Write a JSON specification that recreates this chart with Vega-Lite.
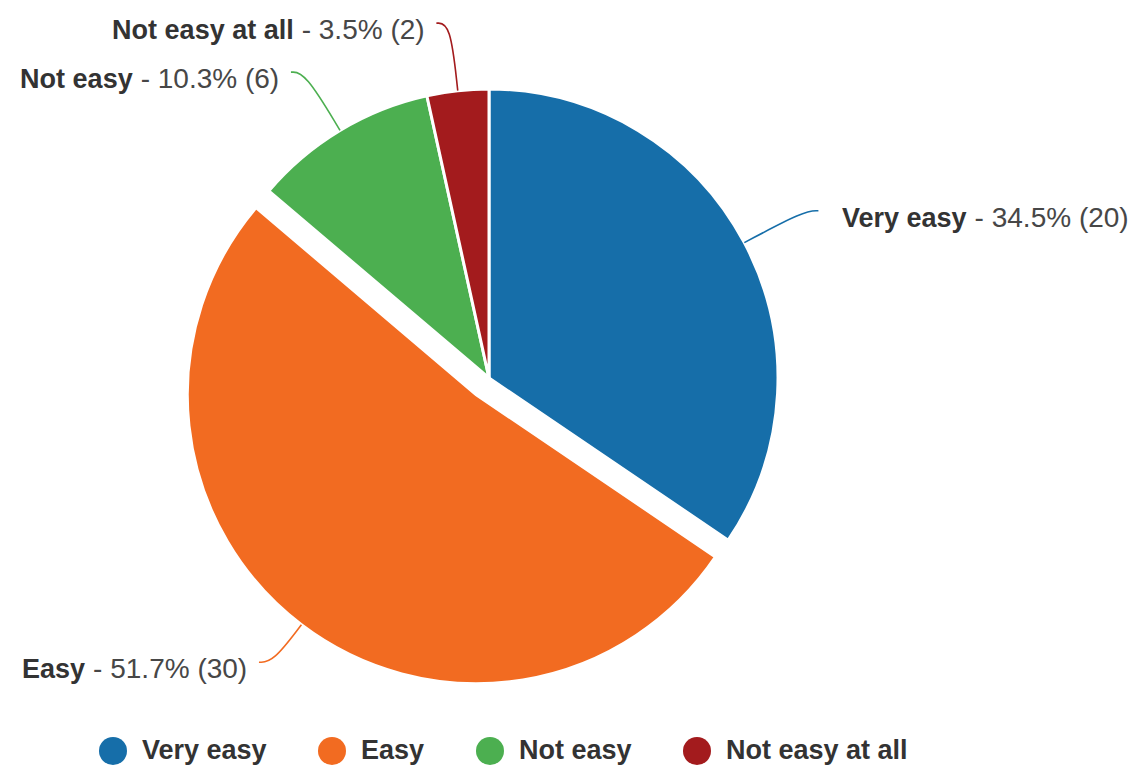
{
  "$schema": "https://vega.github.io/schema/vega-lite/v6.json",
  "width": 1143,
  "height": 769,
  "padding": 0,
  "autosize": "none",
  "background": "white",
  "config": {"view": {"stroke": null}},
  "data": {
    "values": [
      {"answer": "Very easy", "count": 20, "pct": 34.5},
      {"answer": "Easy", "count": 30, "pct": 51.7},
      {"answer": "Not easy", "count": 6, "pct": 10.3},
      {"answer": "Not easy at all", "count": 2, "pct": 3.5}
    ]
  },
  "transform": [
    {"joinaggregate": [{"op": "sum", "field": "count", "as": "total"}]},
    {"window": [{"op": "sum", "field": "count", "as": "t1"}], "frame": [null, 0]},
    {"calculate": "(datum.t1 - datum.count) / datum.total", "as": "f0"},
    {"calculate": "datum.t1 / datum.total", "as": "f1"},
    {"calculate": "PI * (datum.f0 + datum.f1)", "as": "mid"},
    {"calculate": "sin(datum.mid)", "as": "s"},
    {"calculate": "cos(datum.mid)", "as": "c"},
    {"calculate": "datum.s >= 0 ? 1 : -1", "as": "side"},
    {"calculate": "datum.answer === 'Easy' ? 21 : 0", "as": "ex"},
    {"calculate": "datum.ex * datum.s", "as": "cx"},
    {"calculate": "datum.ex * datum.c", "as": "cy"},
    {"calculate": "357 * datum.s + 14 * datum.side", "as": "endX"},
    {"calculate": "357 * datum.c", "as": "endY"},
    {"calculate": "format(datum.pct, '.1f')", "as": "pctS"},
    {"calculate": "'- ' + datum.pctS + '% (' + datum.count + ')'", "as": "rest"},
    {"calculate": "28 * (3.0 + 0.556 * (length(datum.pctS) - 1) + 0.556 * length(toString(datum.count)))", "as": "restW"},
    {"calculate": "13.8 * length(datum.answer)", "as": "nameW"},
    {"calculate": "datum.side > 0 ? datum.endX + 24 + datum.nameW : datum.endX - 12 - datum.restW", "as": "jx"},
    {"calculate": "datum.endY - 8", "as": "ty"}
  ],
  "layer": [
    {
      "mark": {"type": "arc", "outerRadius": 289, "stroke": "white", "strokeWidth": 3},
      "encoding": {
        "theta": {"field": "f0", "type": "quantitative", "scale": {"domain": [0, 1], "range": [0, 6.283185307179586]}},
        "theta2": {"field": "f1"},
        "x": {"field": "cx", "type": "quantitative", "scale": {"domain": [-489, 654], "nice": false, "zero": false}, "axis": null},
        "y": {"field": "cy", "type": "quantitative", "scale": {"domain": [-391, 378], "nice": false, "zero": false}, "axis": null},
        "color": {
          "field": "answer",
          "type": "nominal",
          "scale": {"domain": ["Very easy", "Easy", "Not easy", "Not easy at all"], "range": ["#166ea9", "#f26b21", "#4caf50", "#a31b1d"]},
          "legend": {
            "orient": "none",
            "legendX": 99,
            "legendY": 737,
            "direction": "horizontal",
            "columns": 4,
            "title": null,
            "padding": 0,
            "symbolType": "circle",
            "symbolSize": 784,
            "symbolStrokeWidth": 0,
            "labelFont": "Liberation Sans",
            "labelFontSize": 27,
            "labelFontWeight": "bold",
            "labelColor": "#333333",
            "labelOffset": 15,
            "columnPadding": 51,
            "labelLimit": 400
          }
        }
      }
    },
    {
      "transform": [
        {"calculate": "[0, 1, 2]", "as": "k"},
        {"flatten": ["k"]},
        {"calculate": "datum.k === 0 ? datum.cx + 289 * datum.s : (datum.k === 1 ? 357 * datum.s : datum.endX)", "as": "px"},
        {"calculate": "datum.k === 0 ? datum.cy + 289 * datum.c : datum.endY", "as": "py"}
      ],
      "mark": {"type": "line", "interpolate": "basis", "strokeWidth": 1.6},
      "encoding": {
        "x": {"field": "px", "type": "quantitative", "scale": {"domain": [-489, 654], "nice": false, "zero": false}, "axis": null},
        "y": {"field": "py", "type": "quantitative", "scale": {"domain": [-391, 378], "nice": false, "zero": false}, "axis": null},
        "stroke": {
          "field": "answer",
          "type": "nominal",
          "scale": {"domain": ["Very easy", "Easy", "Not easy", "Not easy at all"], "range": ["#166ea9", "#f26b21", "#4caf50", "#a31b1d"]},
          "legend": null
        },
        "order": {"field": "k", "type": "quantitative"}
      }
    },
    {
      "mark": {"type": "text", "align": "right", "baseline": "middle", "font": "Liberation Sans", "fontSize": 27, "fontWeight": "bold", "color": "#333333"},
      "encoding": {
        "x": {"field": "jx", "type": "quantitative", "scale": {"domain": [-489, 654], "nice": false, "zero": false}, "axis": null},
        "y": {"field": "ty", "type": "quantitative", "scale": {"domain": [-391, 378], "nice": false, "zero": false}, "axis": null},
        "text": {"field": "answer"}
      }
    },
    {
      "mark": {"type": "text", "align": "left", "baseline": "middle", "dx": 8, "font": "Liberation Sans", "fontSize": 28, "fontWeight": "normal", "color": "#474747"},
      "encoding": {
        "x": {"field": "jx", "type": "quantitative", "scale": {"domain": [-489, 654], "nice": false, "zero": false}, "axis": null},
        "y": {"field": "ty", "type": "quantitative", "scale": {"domain": [-391, 378], "nice": false, "zero": false}, "axis": null},
        "text": {"field": "rest"}
      }
    }
  ]
}
